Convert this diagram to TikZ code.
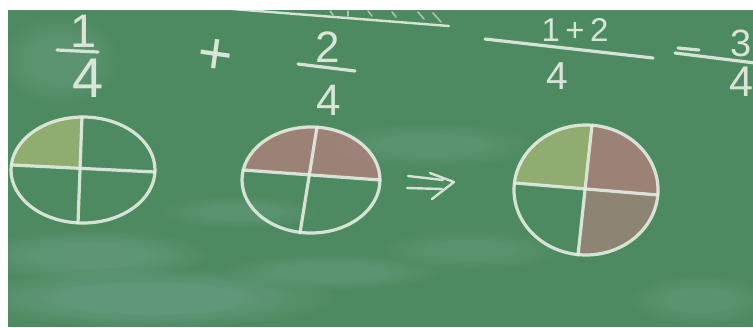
\documentclass[tikz,border=0pt]{standalone}
\usepackage{fontspec}
\setmainfont{Liberation Sans}
\usetikzlibrary{fadings}
\definecolor{board}{HTML}{4E8A61}
\definecolor{haze}{HTML}{8CB8AC}
\definecolor{chalk}{HTML}{E4EDE2}
\definecolor{ygreen}{HTML}{9CB274}
\definecolor{rose}{HTML}{A5817A}
\definecolor{rosetwo}{HTML}{9A8478}
\tikzset{
  chalkline/.style={draw=chalk, line width=3.2pt, line cap=round, line join=round, opacity=0.9},
  chalktext/.style={text=chalk, inner sep=0pt, opacity=0.92},
  smudge/.style={fill=haze, path fading=circle with fuzzy edge 20 percent},
}
\begin{document}
\begin{tikzpicture}[x=1pt,y=-1pt]
\useasboundingbox (0,0) rectangle (753,327);
\fill[white] (0,0) rectangle (753,327);
\begin{scope}
\clip (8,10) rectangle (753,327);
\fill[board] (8,10) rectangle (753,327);
% chalk haze on the board
\foreach \s in {1.0,0.8,0.6}{
\fill[smudge, opacity=0.12] (150,298) ellipse [x radius=190*\s, y radius=30*\s];
\fill[smudge, opacity=0.10] (90,255) ellipse [x radius=120*\s, y radius=26*\s];
\fill[smudge, opacity=0.09] (330,272) ellipse [x radius=110*\s, y radius=18*\s];
\fill[smudge, opacity=0.08] (430,145) ellipse [x radius=110*\s, y radius=22*\s];
\fill[smudge, opacity=0.08] (240,212) ellipse [x radius=80*\s, y radius=16*\s];
\fill[smudge, opacity=0.09] (60,60) ellipse [x radius=60*\s, y radius=45*\s];
\fill[smudge, opacity=0.08] (700,300) ellipse [x radius=70*\s, y radius=25*\s];
\fill[smudge, opacity=0.07] (470,250) ellipse [x radius=90*\s, y radius=20*\s];
}

% top heading remnant (underline)
\coordinate (ul1) at (232,9);
\coordinate (ul2) at (449,26);
\draw[chalkline, line width=2.4pt] (ul1) -- (ul2);
\draw[chalkline, line width=1.6pt, opacity=0.6] (330,11) -- (333,15) (348,11) -- (348,16) (368,11) -- (372,16) (392,12) -- (396,17) (418,12) -- (424,19) (433,13) -- (441,22);

% first fraction 1/4
\node[chalktext, font=\fontsize{47}{47}\selectfont] (n1) at (84,31) {1};
\coordinate (b1a) at (57,50); \coordinate (b1b) at (98,52);
\draw[chalkline] (b1a) -- (b1b);
\node[chalktext, font=\fontsize{56}{56}\selectfont] (d1) at (88,78) {4};

\node[chalktext, font=\fontsize{60}{60}\selectfont, rotate=-8] (plus) at (215,57) {+};

% second fraction 2/4
\node[chalktext, font=\fontsize{44}{44}\selectfont] (n2) at (328,47) {2};
\coordinate (b2a) at (298,64); \coordinate (b2b) at (355,71);
\draw[chalkline] (b2a) -- (b2b);
\node[chalktext, font=\fontsize{44}{44}\selectfont] (d2) at (329,100) {4};

% (1+2)/4
\node[chalktext, font=\fontsize{33}{33}\selectfont] (n3) at (575,30) {1\,+\,2};
\coordinate (b3a) at (485,39); \coordinate (b3b) at (653,58);
\draw[chalkline] (b3a) -- (b3b);
\node[chalktext, font=\fontsize{39}{39}\selectfont] (d3) at (557,76) {4};

% = 3/4
\coordinate (e1a) at (678,48); \coordinate (e1b) at (699,50);
\draw[chalkline] (e1a) -- (e1b);
\coordinate (e2a) at (675,53); \coordinate (e2b) at (755,63);
\draw[chalkline] (e2a) -- (e2b);
\node[chalktext, font=\fontsize{38}{38}\selectfont] (n4) at (741,43) {3};
\node[chalktext, font=\fontsize{43}{43}\selectfont] (d4) at (741,82) {4};

% circle 1 : one quarter
\coordinate (c1) at (83,170);
\begin{scope}
\clip (c1) ellipse [x radius=72, y radius=53];
\fill[ygreen, opacity=0.85] (0,100) -- (83,100) -- (80,168) -- (0,164) -- cycle;
\end{scope}
\draw[chalkline] (c1) ellipse [x radius=72, y radius=53];
\draw[chalkline] (82,117) -- (78,223);
\draw[chalkline] (12,165) -- (155,172);

% circle 2 : two quarters
\coordinate (c2) at (311,180);
\begin{scope}
\clip (c2) ellipse [x radius=69, y radius=53];
\fill[rose, opacity=0.9] (230,100) -- (390,100) -- (390,181) -- (230,169) -- cycle;
\end{scope}
\draw[chalkline] (c2) ellipse [x radius=69, y radius=53];
\draw[chalkline] (317,127) -- (300,233);
\draw[chalkline] (243,170) -- (380,180);

% arrow
\draw[chalkline, line width=2.4pt] (408,176) -- (443,180);
\draw[chalkline, line width=2.4pt] (407,188) -- (442,189);
\draw[chalkline, line width=2.4pt] (430,173) -- (454,182) -- (432,199);

% circle 3 : three quarters
\coordinate (c3) at (586,190);
\begin{scope}
\clip (c3) ellipse [x radius=72, y radius=65];
\fill[ygreen, opacity=0.85] (500,110) -- (594,110) -- (585,189) -- (500,182) -- cycle;
\fill[rose, opacity=0.9] (594,110) -- (680,110) -- (680,197) -- (585,189) -- cycle;
\fill[rosetwo, opacity=0.85] (585,189) -- (680,197) -- (680,270) -- (576,270) -- cycle;
\end{scope}
\draw[chalkline] (c3) ellipse [x radius=72, y radius=65];
\draw[chalkline] (592,125) -- (578,255);
\draw[chalkline] (515,183) -- (658,195);
\end{scope}
\end{tikzpicture}
\end{document}
